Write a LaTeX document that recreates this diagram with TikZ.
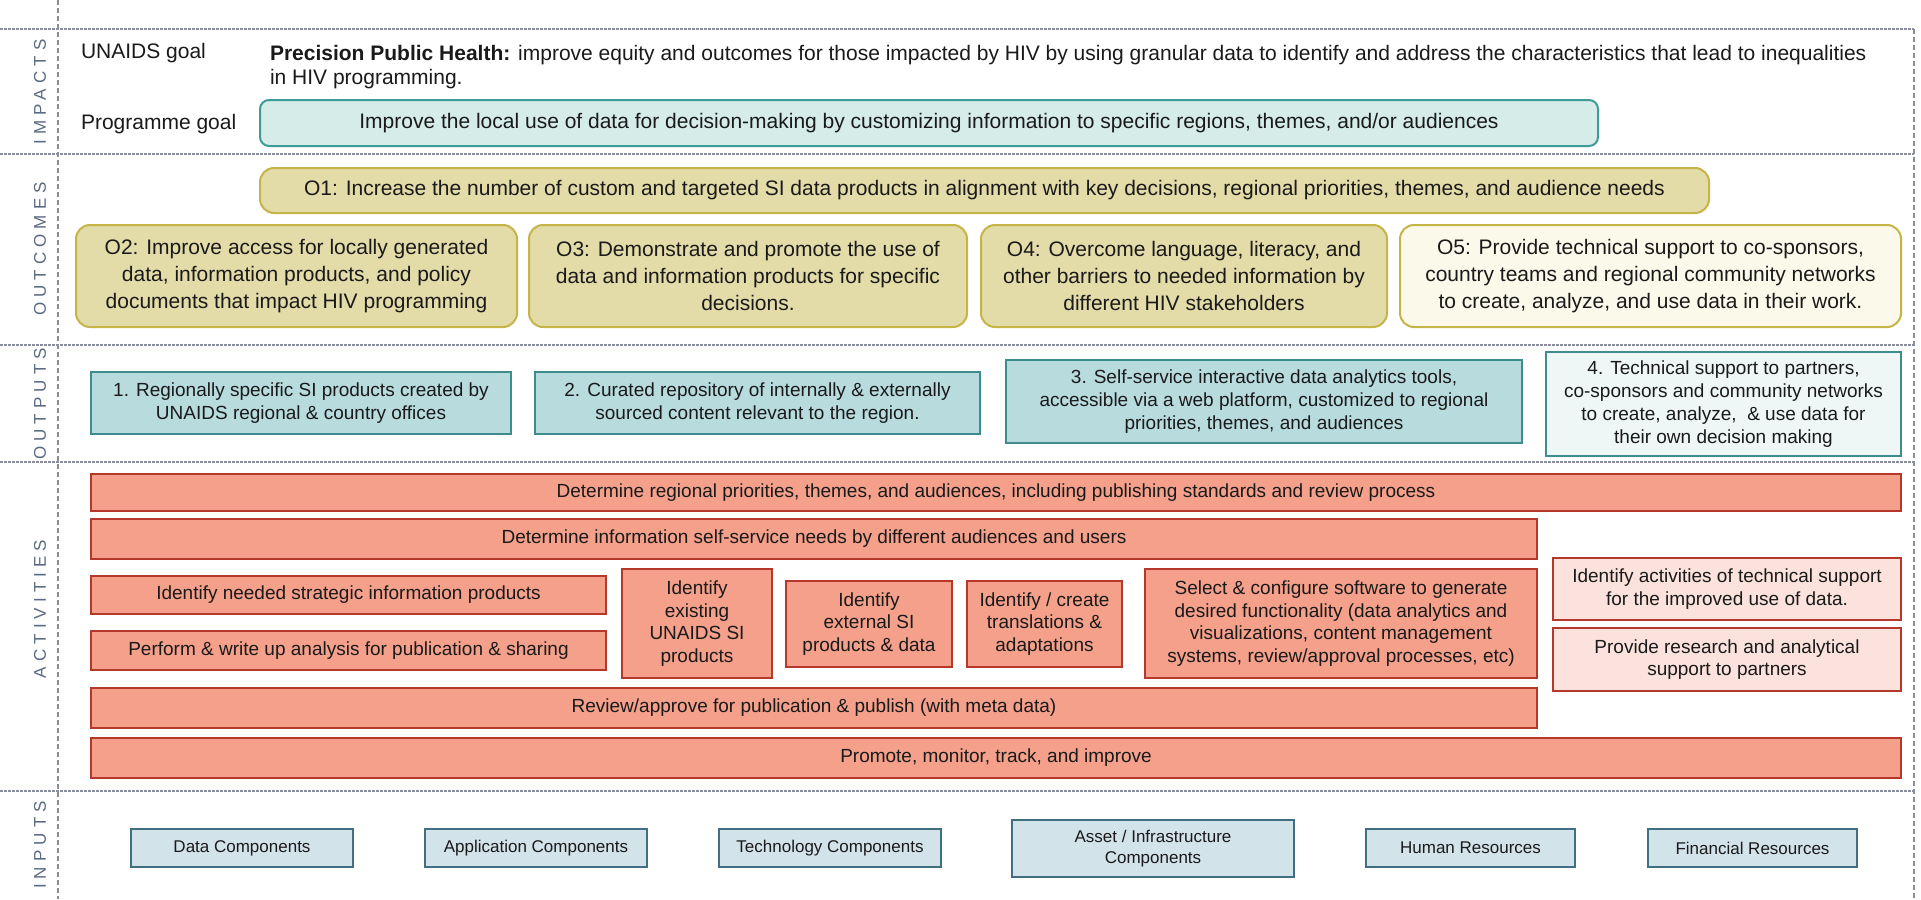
\documentclass[tikz,border=0pt]{standalone}
\usepackage{fontspec}
\setmainfont{Liberation Sans}
\newfontfamily\labfont[LetterSpace=30]{Liberation Sans}
\definecolor{seclab}{HTML}{5A6A82}
\definecolor{dashc}{HTML}{8A8D9C}
\definecolor{progfill}{HTML}{D5ECE9}
\definecolor{progdraw}{HTML}{3E9C96}
\definecolor{ofill}{HTML}{E3DBA8}
\definecolor{odraw}{HTML}{C6B447}
\definecolor{ofivefill}{HTML}{FBF9EA}
\definecolor{outfill}{HTML}{B8DBDE}
\definecolor{outdraw}{HTML}{3F8C8E}
\definecolor{outfourfill}{HTML}{EEF6F6}
\definecolor{actfill}{HTML}{F4A08B}
\definecolor{actdraw}{HTML}{B5382A}
\definecolor{actlight}{HTML}{FBE2DC}
\definecolor{infill}{HTML}{D3E3EA}
\definecolor{indraw}{HTML}{3F6F80}
\definecolor{txt}{HTML}{1A1A1A}
\newcommand\bx[7]{\node[#1,minimum width={#5-#3},minimum height={#6-#4}] (#2) at ({(#3+#5)/2},{(#4+#6)/2}) {#7};}
\begin{document}
\begin{tikzpicture}[x=1pt,y=-1pt,
  every node/.style={inner sep=0pt, outer sep=0pt, text=txt},
  hline/.style={dashc, line width=1.3pt, dash pattern=on 2.5pt off 1.5pt},
  vline/.style={dashc, line width=1.3pt, dash pattern=on 5pt off 3pt},
  seclabel/.style={rotate=90, text=seclab, font=\labfont\fontsize{17}{20}\selectfont},
  imptext/.style={font=\fontsize{21}{24.5}\selectfont},
  progbox/.style={draw=progdraw, fill=progfill, line width=2pt, rounded corners=9pt, align=center, font=\fontsize{21}{25}\selectfont},
  obox/.style={draw=odraw, fill=ofill, line width=2pt, rounded corners=14pt, align=center, font=\fontsize{21}{27}\selectfont},
  ofivebox/.style={obox, fill=ofivefill},
  outbox/.style={draw=outdraw, fill=outfill, line width=2pt, align=center, font=\fontsize{19}{23}\selectfont},
  outfourbox/.style={outbox, fill=outfourfill},
  actbox/.style={draw=actdraw, fill=actfill, line width=2pt, align=center, font=\fontsize{19}{22.7}\selectfont},
  actlightbox/.style={actbox, fill=actlight},
  inbox/.style={draw=indraw, fill=infill, line width=2pt, align=center, font=\fontsize{17}{21}\selectfont}
]
\useasboundingbox (0,0) rectangle (1921,899);
\fill[white] (0,0) rectangle (1921,899);

% section separators
\draw[hline] (0,29) -- (1914,29);
\draw[hline] (0,154) -- (1914,154);
\draw[hline] (0,345) -- (1914,345);
\draw[hline] (0,462) -- (1914,462);
\draw[hline] (0,791) -- (1914,791);
\draw[vline] (58,0) -- (58,899);
\draw[vline] (1914,29) -- (1914,899);

% section labels
\node[seclabel] (limp) at (40,92) {IMPACTS};
\node[seclabel] (lout) at (40,249) {OUTCOMES};
\node[seclabel] (lput) at (40,404) {OUTPUTS};
\node[seclabel] (lact) at (40,609) {ACTIVITIES};
\node[seclabel] (linp) at (40,845) {INPUTS};

% impacts
\node[imptext, anchor=west] (ug) at (81,53) {UNAIDS goal};
\node[imptext, anchor=north west, align=left] (pph) at (270,45) {\textbf{Precision Public Health:} improve equity and outcomes for those impacted by HIV by using granular data to identify and address the characteristics that lead to inequalities\\in HIV programming.};
\node[imptext, anchor=west] (pg) at (81,124) {Programme goal};
\bx{progbox}{prog}{260}{100}{1598}{146}{Improve the local use of data for decision-making by customizing information to specific regions, themes, and/or audiences}

% outcomes
\bx{obox}{oone}{260}{168}{1709}{213}{O1: Increase the number of custom and targeted SI data products in alignment with key decisions, regional priorities, themes, and audience needs}
\bx{obox}{otwo}{76}{225}{517}{327}{O2: Improve access for locally generated\\data, information products, and policy\\documents that impact HIV programming}
\bx{obox}{othree}{529}{225}{967}{327}{O3: Demonstrate and promote the use of\\data and information products for specific\\decisions.}
\bx{obox}{ofour}{981}{225}{1387}{327}{O4: Overcome language, literacy, and\\other barriers to needed information by\\different HIV stakeholders}
\bx{ofivebox}{ofive}{1400}{225}{1901}{327}{O5: Provide technical support to co-sponsors,\\country teams and regional community networks\\to create, analyze, and use data in their work.}

% outputs
\bx{outbox}{pone}{91}{372}{511}{434}{1. Regionally specific SI products created by\\UNAIDS regional \& country offices}
\bx{outbox}{ptwo}{535}{372}{980}{434}{2. Curated repository of internally \& externally\\sourced content relevant to the region.}
\bx{outbox}{pthree}{1006}{360}{1522}{443}{3. Self-service interactive data analytics tools,\\accessible via a web platform, customized to regional\\priorities, themes, and audiences}
\bx{outfourbox}{pfour}{1546}{352}{1901}{456}{4. Technical support to partners,\\co-sponsors and community networks\\to create, analyze, \ \& use data for\\their own decision making}

% activities
\bx{actbox}{aone}{91}{474}{1901}{511}{Determine regional priorities, themes, and audiences, including publishing standards and review process}
\bx{actbox}{atwo}{91}{519}{1537}{559}{Determine information self-service needs by different audiences and users}
\bx{actbox}{aneed}{91}{576}{606}{614}{Identify needed strategic information products}
\bx{actbox}{aperf}{91}{631}{606}{670}{Perform \& write up analysis for publication \& sharing}
\bx{actbox}{aexist}{622}{569}{772}{678}{Identify\\existing\\UNAIDS SI\\products}
\bx{actbox}{aext}{786}{581}{952}{667}{Identify\\external SI\\products \& data}
\bx{actbox}{atrans}{967}{581}{1122}{667}{Identify / create\\translations \&\\adaptations}
\bx{actbox}{asel}{1145}{569}{1537}{678}{Select \& configure software to generate\\desired functionality (data analytics and\\visualizations, content management\\systems, review/approval processes, etc)}
\bx{actlightbox}{atech}{1553}{558}{1901}{620}{Identify activities of technical support\\for the improved use of data.}
\bx{actlightbox}{ares}{1553}{628}{1901}{691}{Provide research and analytical\\support to partners}
\bx{actbox}{arev}{91}{688}{1537}{728}{Review/approve for publication \& publish (with meta data)}
\bx{actbox}{aprom}{91}{738}{1901}{778}{Promote, monitor, track, and improve}

% inputs
\bx{inbox}{idata}{131}{829}{353}{867}{Data Components}
\bx{inbox}{iapp}{425}{829}{647}{867}{Application Components}
\bx{inbox}{itech}{719}{829}{941}{867}{Technology Components}
\bx{inbox}{iasset}{1012}{820}{1294}{877}{Asset / Infrastructure\\Components}
\bx{inbox}{ihum}{1366}{829}{1575}{867}{Human Resources}
\bx{inbox}{ifin}{1648}{829}{1857}{867}{Financial Resources}
\end{tikzpicture}
\end{document}
